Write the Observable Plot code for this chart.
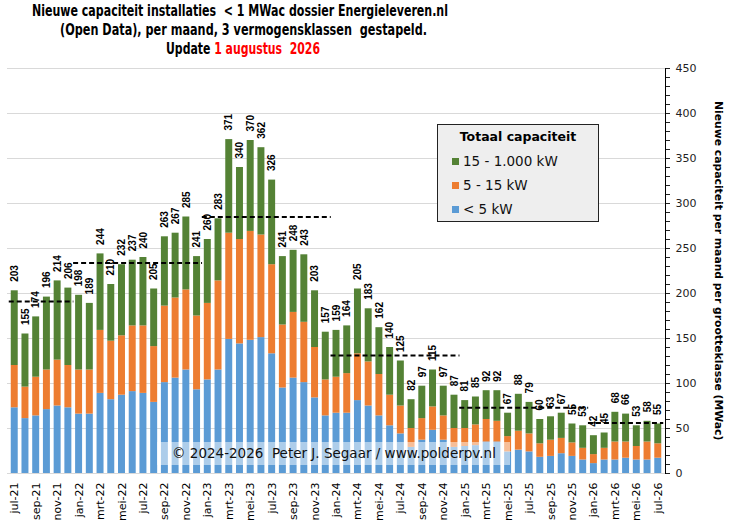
<!DOCTYPE html>
<html><head><meta charset="utf-8">
<script src="https://cdn.jsdelivr.net/npm/d3@7"></script>
<script src="https://cdn.jsdelivr.net/npm/@observablehq/plot@0.6"></script>
<style>
body{margin:0;background:#fff;}
#wrap{position:relative;width:731px;height:526px;overflow:hidden;font-family:"DejaVu Sans",sans-serif;}
#chart svg{position:absolute;left:0;top:0;}
.tl{position:absolute;white-space:pre;font-family:"DejaVu Sans",sans-serif;font-weight:bold;font-size:16px;line-height:19px;color:#000;transform-origin:0 0;}
.tl .red{color:#ff0000;}
#legend{position:absolute;left:437px;top:124px;width:160px;height:96px;background:#eeeeee;border:1px solid #222;}
#legend .lt{position:absolute;left:0;width:160px;top:4px;text-align:center;font-weight:bold;font-size:12.5px;line-height:16px;}
#legend .li{position:absolute;left:25px;font-size:13.5px;line-height:16px;white-space:pre;color:#111;}
#legend .sw{position:absolute;left:-11px;top:5px;width:7px;height:7px;}
#ytitle{position:absolute;left:712px;top:101px;writing-mode:vertical-rl;font-weight:bold;font-size:10.8px;color:#000;white-space:pre;}
#wm{position:absolute;left:157px;top:442px;width:353px;height:23px;background:rgba(255,255,255,0.5);font-size:13.5px;line-height:23px;color:#111;white-space:pre;padding-left:15px;box-sizing:border-box;}
</style></head>
<body>
<div id="wrap">
<div id="chart"></div>
<div class="tl" id="t1">Nieuwe capaciteit installaties  &lt; 1 MWac dossier Energieleveren.nl</div>
<div class="tl" id="t2">(Open Data), per maand, 3 vermogensklassen  gestapeld.</div>
<div class="tl" id="t3">Update <span class="red">1 augustus  2026</span></div>
<div id="legend"></div>
<div id="ytitle">Nieuwe capaciteit per maand per grootteklasse (MWac)</div>
<div id="wm">© 2024-2026  Peter J. Segaar / www.polderpv.nl</div>
</div>
<script>
const months = ["jul-21","aug-21","sep-21","okt-21","nov-21","dec-21",
"jan-22","feb-22","mrt-22","apr-22","mei-22","jun-22","jul-22","aug-22","sep-22","okt-22","nov-22","dec-22",
"jan-23","feb-23","mrt-23","apr-23","mei-23","jun-23","jul-23","aug-23","sep-23","okt-23","nov-23","dec-23",
"jan-24","feb-24","mrt-24","apr-24","mei-24","jun-24","jul-24","aug-24","sep-24","okt-24","nov-24","dec-24",
"jan-25","feb-25","mrt-25","apr-25","mei-25","jun-25","jul-25","aug-25","sep-25","okt-25","nov-25","dec-25",
"jan-26","feb-26","mrt-26","apr-26","mei-26","jun-26","jul-26"];
const tickLabels = ["jul-21","sep-21","nov-21","jan-22","mrt-22","mei-22","jul-22","sep-22","nov-22",
"jan-23","mrt-23","mei-23","jul-23","sep-23","nov-23","jan-24","mrt-24","mei-24","jul-24","sep-24","nov-24",
"jan-25","mrt-25","mei-25","jul-25","sep-25","nov-25","jan-26","mrt-26","mei-26","jul-26"];
const classes = ["< 5 kW","5 - 15 kW","15 - 1.000 kW"];
const colors = ["#5b9bd5","#ed7d31","#548235"];
// < 5 kW
const small = [73,61,64,71,75,73,
66,66,89,82,87,91,89,79,101,106,115,93,
104,115,149,144,148,151,133,95,106,101,84,64,
67,67,81,75,64,53,44,29,37,48,37,29,
30,31,35,35,24,26,24,18,19,22,19,15,
11,15,15,17,15,15,17];
// 5 - 15 kW
const mid = [47,35,43,44,51,47,
49,49,70,65,66,73,75,62,85,89,89,82,
85,99,118,116,121,114,99,70,73,67,56,40,
40,44,52,49,46,34,31,21,24,26,27,21,
20,23,25,23,17,21,20,15,18,17,15,13,
10,13,20,18,15,20,16];
// 15 - 1.000 kW
const large = [83,59,67,81,88,86,
83,74,85,63,79,73,76,64,77,72,81,66,
71,69,104,80,101,97,94,76,69,75,63,53,
52,53,72,59,52,53,50,32,36,41,33,37,
31,31,32,34,26,41,35,27,26,28,21,25,
21,17,33,31,23,23,22];
const totals = [203,155,174,196,214,206,
198,189,244,210,232,237,240,205,263,267,285,241,
260,283,371,340,370,362,326,241,248,243,203,157,
159,164,205,183,162,140,125,82,97,115,97,87,
81,85,92,92,67,88,79,60,63,67,55,53,
42,45,68,66,53,58,55];
const yearStart = ["jul-21","jan-22","jan-23","jan-24","jan-25","jan-26"];
const yearEnd = ["dec-21","dec-22","dec-23","dec-24","dec-25","jul-26"];
const yearAvg = [191,234,285,131,73,56];
const yTicks = [0,50,100,150,200,250,300,350,400,450];

const rows = months.flatMap((m,i)=>[
  {month:m, cls:classes[0], v:small[i]},
  {month:m, cls:classes[1], v:mid[i]},
  {month:m, cls:classes[2], v:large[i]}
]);
const totRows = months.map((m,i)=>({month:m, total:totals[i]}));
const avgRows = yearAvg.map((a,i)=>({avg:a, start:yearStart[i], end:yearEnd[i]}));

const chart = Plot.plot({
  width:731, height:526,
  marginTop:68, marginBottom:53, marginLeft:7, marginRight:66,
  style:{fontFamily:"DejaVu Sans", fontSize:"11px", background:"transparent", color:"#000"},
  x:{type:"band", domain:months, padding:0.35},
  y:{domain:[0,450]},
  color:{domain:classes, range:colors},
  marks:[
    Plot.gridY(yTicks.filter(d=>d>0), {stroke:"#d9d9d9", strokeOpacity:1}),
    Plot.ruleY([0], {stroke:"#d9d9d9"}),
    Plot.barY(rows, {x:"month", y:"v", fill:"cls"}),
    Plot.ruleY(avgRows, {y:"avg", x1:"start", x2:"end", stroke:"#000", strokeWidth:2, strokeDasharray:"5,3", insetLeft:-2, insetRight:-2}),
    Plot.text(totRows, {x:"month", y:"total", text:d=>String(d.total), rotate:-90, textAnchor:"start", dy:-9, fontWeight:"bold", fontSize:10, fontFamily:"Liberation Sans", fill:"#000"}),
    Plot.axisX({ticks:tickLabels, tickRotate:-90, tickSize:0, tickPadding:9, fontSize:11, label:null}),
    Plot.axisY({anchor:"right", ticks:d3.range(0,451,10), tickFormat:d=>d%50===0?String(d):"", tickSize:4, tickPadding:6, label:null, fontSize:11, color:"#222"}),
    Plot.frame({anchor:"right", stroke:"#000"})
  ]
});
document.getElementById("chart").appendChild(chart);

// title lines: fit to the reference widths, centred
[["t1",240,416,0],["t2",243.5,367,19],["t3",243,154,38]].forEach(([id,cx,w,top])=>{
  const el=document.getElementById(id);
  const bw=el.getBoundingClientRect().width;
  const k=w/bw;
  el.style.top=(1+top)+"px";
  el.style.left=(cx-w/2)+"px";
  el.style.transform=`scaleX(${k})`;
});

const lg = document.getElementById("legend");
const lt = document.createElement("div"); lt.className="lt"; lt.textContent="Totaal capaciteit"; lg.appendChild(lt);
[2,1,0].forEach((k,j)=>{
  const d=document.createElement("div"); d.className="li"; d.style.top=(28+j*24)+"px";
  const s=document.createElement("span"); s.className="sw"; s.style.background=colors[k];
  d.appendChild(s); d.appendChild(document.createTextNode(classes[k])); lg.appendChild(d);
});
</script>
</body></html>
